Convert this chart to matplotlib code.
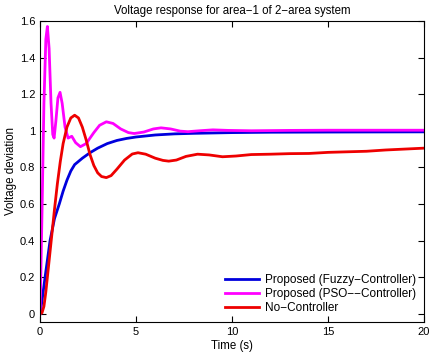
import numpy as np
import matplotlib
matplotlib.use('Agg')
import matplotlib.pyplot as plt

plt.rcParams['font.family'] = ['Liberation Sans', 'DejaVu Sans']

# Fuzzy controller response
t_fuzzy = [0, 0.1, 0.26, 0.52, 0.75, 1.0, 1.2, 1.4, 1.6, 1.8, 2.2, 2.6, 3.0, 3.5,
           4.0, 4.5, 5.0, 6, 7, 8, 10, 12, 15, 20]
v_fuzzy = [0, 0.07, 0.2, 0.4, 0.52, 0.6, 0.67, 0.73, 0.78, 0.815, 0.85, 0.88, 0.905, 0.93,
           0.947, 0.958, 0.966, 0.977, 0.983, 0.986, 0.99, 0.992, 0.993, 0.994]

# PSO controller response
t_pso = [0, 0.1, 0.2, 0.3, 0.38, 0.47, 0.57, 0.66, 0.73, 0.82, 0.93, 1.04, 1.15, 1.3,
         1.46, 1.65, 1.85, 2.1, 2.4, 2.8, 3.1, 3.45, 3.8, 4.2, 4.6, 4.9, 5.4, 5.9,
         6.3, 6.8, 7.3, 7.7, 8.3, 9.0, 9.8, 11, 13, 15, 17, 20]
v_pso = [0, 0.55, 1.15, 1.5, 1.57, 1.45, 1.15, 0.98, 0.96, 1.05, 1.18, 1.21, 1.15, 1.02,
         0.96, 0.97, 0.935, 0.913, 0.93, 0.99, 1.03, 1.049, 1.04, 1.01, 0.99, 0.985, 0.993, 1.01,
         1.016, 1.01, 0.998, 0.995, 1.0, 1.005, 1.002, 1.0, 1.002, 1.003, 1.003, 1.003]

# No controller response
t_none = [0, 0.1, 0.2, 0.3, 0.45, 0.6, 0.75, 0.9, 1.05, 1.2, 1.4, 1.6, 1.8, 2.0, 2.2,
          2.4, 2.6, 2.8, 3.0, 3.2, 3.45, 3.7, 4.0, 4.4, 4.8, 5.1, 5.5, 6.0, 6.4, 6.7,
          7.1, 7.6, 8.2, 8.8, 9.5, 10.2, 11, 12, 13, 14, 15, 16, 17, 18, 19, 20]
v_none = [0, 0.005, 0.04, 0.12, 0.27, 0.42, 0.57, 0.71, 0.83, 0.93, 1.02, 1.07, 1.085, 1.07, 1.02,
          0.95, 0.87, 0.81, 0.77, 0.75, 0.744, 0.755, 0.79, 0.84, 0.873, 0.88, 0.872, 0.85, 0.838, 0.834,
          0.84, 0.86, 0.872, 0.868, 0.858, 0.862, 0.87, 0.872, 0.875, 0.876, 0.882, 0.885, 0.888, 0.895, 0.9, 0.905]

fig = plt.figure(figsize=(4.31, 3.58), dpi=100)
ax = fig.add_axes([0.093, 0.1006, 0.891, 0.8408])

ax.plot(t_fuzzy, v_fuzzy, color='#0000dd', lw=2, label='Proposed (Fuzzy\u2212Controller)')
ax.plot(t_pso, v_pso, color='#ff00ff', lw=2, label='Proposed (PSO\u2212\u2212Controller)')
ax.plot(t_none, v_none, color='#ee0000', lw=2, label='No\u2212Controller')

ax.set_xlim(0, 20)
ax.set_ylim(-0.045, 1.6)
ax.set_xticks([0, 5, 10, 15, 20])
ax.set_yticks([0, 0.2, 0.4, 0.6, 0.8, 1, 1.2, 1.4, 1.6])
ax.set_yticklabels(['0', '0.2', '0.4', '0.6', '0.8', '1', '1.2', '1.4', '1.6'])
ax.tick_params(direction='in', top=True, right=True, labelsize=8, length=4, width=0.8)

ax.set_xlabel('Time (s)', fontsize=8.3, labelpad=2)
ax.set_ylabel('Voltage deviation', fontsize=8.3, labelpad=2)
ax.set_title('Voltage response for area\u22121 of 2\u2212area system', fontsize=8.3, pad=5)

ax.legend(loc='lower right', frameon=False, fontsize=8.5, handlelength=2.9,
          labelspacing=0.15, borderaxespad=0.3, handletextpad=0.5)

fig.savefig('out.png', dpi=100)
